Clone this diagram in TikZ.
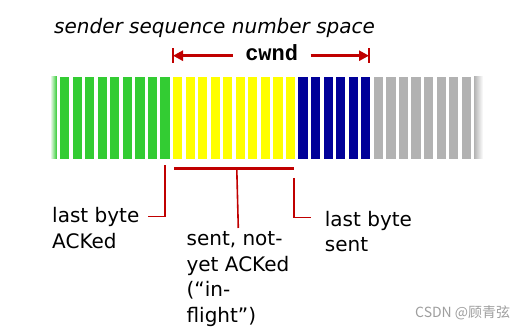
\documentclass[tikz,border=0pt]{standalone}
\usepackage{fontspec}
\setmainfont{DejaVu Sans}
\setmonofont{Liberation Mono}
\newfontfamily\cjkfont{Noto Sans CJK SC}
\usetikzlibrary{positioning, arrows.meta}
\definecolor{ackgreen}{RGB}{51,204,51}
\definecolor{sentyellow}{RGB}{255,255,0}
\definecolor{usableblue}{RGB}{0,0,153}
\definecolor{unusedgray}{RGB}{178,178,178}
\definecolor{markred}{RGB}{192,0,0}

\begin{document}
\begin{tikzpicture}[x=1pt, y=-1pt,
    bar/.style={rectangle, inner sep=0pt, minimum width=9.2pt, minimum height=82pt},
    note/.style={inner sep=0pt, anchor=base west, align=left, font=\fontsize{20}{25.5}\selectfont},
    pointer/.style={draw=markred, line width=1.6pt},
    winarrow/.style={markred, line width=3pt, -{Triangle[length=10pt, width=10pt]}}]
    \useasboundingbox (0,0) rectangle (530,331);
    \node[note, font=\fontsize{20}{24}\selectfont\itshape] (title) at (54,33.7) {sender sequence number space};
    \foreach \first/\last/\col in {0/8/ackgreen, 9/18/sentyellow, 19/24/usableblue, 25/32/unusedgray} {
        \foreach \i in {\first,...,\last} {
            \node[bar, fill=\col] (b\i) at (64.6+12.55*\i,118) {};
        }
    }
    \node[bar, minimum width=6.7pt, left color=white, right color=ackgreen] (fadel) at (53.4,118) {};
    \node[bar, minimum width=9pt, left color=unusedgray, right color=white] (fader) at (478.5,118) {};
    \node[anchor=base, inner xsep=12.3pt, font=\fontsize{22}{24}\selectfont\ttfamily\bfseries] (cwnd) at (271.7,60.7) {cwnd};
    \coordinate (lt) at (173,55.7);
    \coordinate (rt) at (369,55.7);
    \draw[markred, line width=1.3pt] (lt) ++(0,-7.3) -- ++(0,14.6);
    \draw[markred, line width=1.3pt] (rt) ++(0,-7.3) -- ++(0,14.6);
    \draw[winarrow] (cwnd.west |- lt) -- (lt);
    \draw[winarrow] (cwnd.east |- rt) -- (rt);
    \draw[markred, line width=3pt] ([xshift=1.6pt, yshift=-9.6pt]b9.south west) coordinate (inl)
        -- ([xshift=-0.9pt, yshift=-9.6pt]b18.south east) coordinate (inr);
    \path (inl) -- (inr) coordinate[pos=0.52] (inmid);
    \node[note] (acked) at (52,248.3) {last byte\\ACKed};
    \node[note] (flight) at (186.4,322.2) {sent, not-\\yet ACKed\\(“in-\\flight”)};
    \node[note] (sent) at (324.7,251.7) {last byte\\sent};
    \coordinate (ackedend) at (148,216.5);
    \coordinate (flightend) at (238.3,228);
    \coordinate (sentend) at (311.2,217.5);
    \draw[pointer] ([yshift=-6pt]b8.south) |- (ackedend);
    \draw[pointer] (inmid) -- (flightend);
    \draw[pointer] ([xshift=-1.6pt, yshift=-18.8pt]b18.south east) |- (sentend);
    \node[inner sep=0pt, anchor=base west, text=black!38, font=\fontsize{14}{16}\cjkfont] (mark) at (415,317) {CSDN @顾青弦};
\end{tikzpicture}
\end{document}
